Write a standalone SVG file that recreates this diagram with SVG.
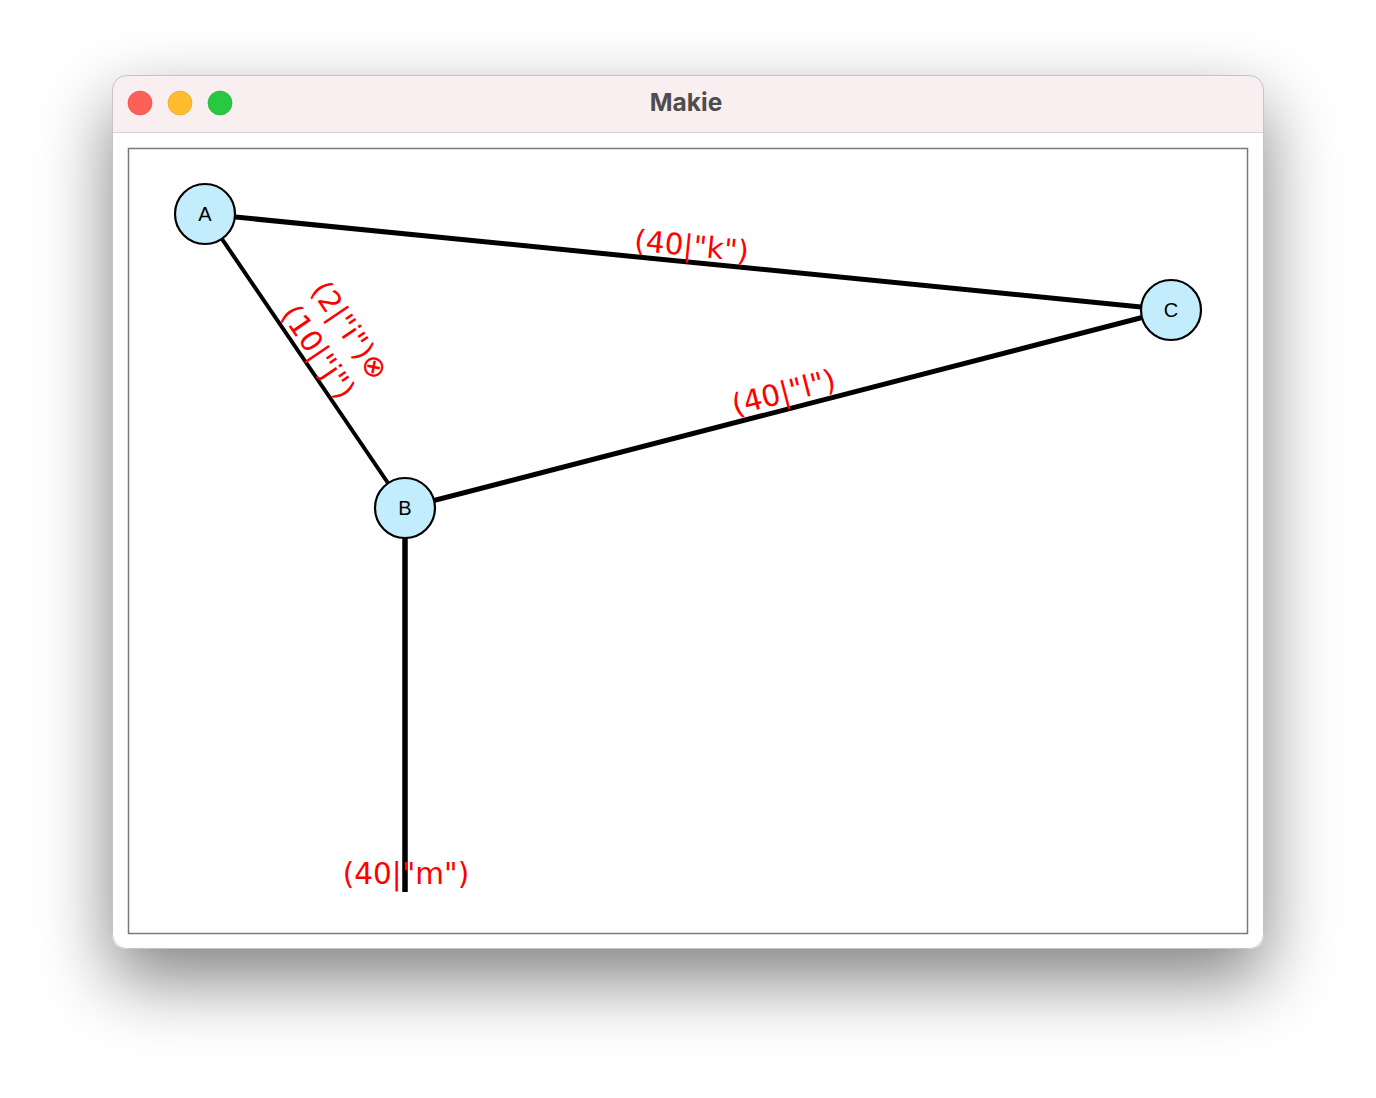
<svg xmlns="http://www.w3.org/2000/svg" width="1376" height="1098" viewBox="0 0 1376 1098">
<defs>
<filter id="shadow" x="-20%" y="-20%" width="140%" height="160%">
<feGaussianBlur in="SourceAlpha" stdDeviation="36"/>
<feOffset dx="0" dy="30" result="b"/>
<feComponentTransfer><feFuncA type="linear" slope="0.5"/></feComponentTransfer>
</filter>
<clipPath id="win"><rect x="112" y="75" width="1152" height="874" rx="14"/></clipPath>
<style>
.edge{stroke:#000;fill:none;stroke-linecap:butt}
.node circle{fill:#c3edfd;stroke:#000;stroke-width:2.2}
.node text{font-family:"Liberation Sans",Arial,sans-serif;font-size:20px;fill:#000;text-anchor:middle}
.lbl{font-family:"DejaVu Sans",sans-serif;font-size:29.5px;fill:#ff0000;text-anchor:middle}
</style>
</defs>
<rect width="1376" height="1098" fill="#ffffff"/>
<rect x="112" y="75" width="1152" height="874" rx="14" fill="#000" filter="url(#shadow)"/>
<g id="window">
<rect x="112" y="75" width="1152" height="874" rx="14" fill="#ffffff"/>
<g clip-path="url(#win)">
<rect x="112" y="75" width="1152" height="57" fill="#f9eef0"/>
<line x1="112" y1="132.5" x2="1264" y2="132.5" stroke="#d9d3d4" stroke-width="1"/>
</g>
<rect x="112.5" y="75.5" width="1151" height="873" rx="14" fill="none" stroke="#c4c4c4" stroke-width="1"/>
<circle cx="140" cy="103" r="12" fill="#fe5f57" stroke="#e0443e" stroke-width="0.6"/>
<circle cx="180" cy="103" r="12" fill="#febc2e" stroke="#dea123" stroke-width="0.6"/>
<circle cx="220" cy="103" r="12" fill="#28c840" stroke="#1aab29" stroke-width="0.6"/>
<text x="686" y="111" font-family="Inter,'Liberation Sans',sans-serif" font-weight="bold" font-size="24.5" fill="#4d4d4d" text-anchor="middle">Makie</text>
<rect x="128.5" y="148.5" width="1119" height="785" fill="#ffffff" stroke="#7a7a7a" stroke-width="1.5"/>
</g>
<g id="connectors">
<line class="edge" x1="205" y1="214" x2="405" y2="508" stroke-width="4"/>
<line class="edge" x1="205" y1="214" x2="1171" y2="310" stroke-width="5"/>
<line class="edge" x1="405" y1="508" x2="1171" y2="310" stroke-width="5"/>
<line class="edge" x1="405" y1="508" x2="405" y2="892" stroke-width="5.5"/>
<g transform="translate(305,361) rotate(55.8)">
<text class="lbl" x="0" y="-44">(2|"i")⊗</text>
<text class="lbl" x="0" y="-6">(10|"j")</text>
</g>
<g transform="translate(690,262) rotate(5.67)">
<text class="lbl" x="0" y="-6">(40|"k")</text>
</g>
<g transform="translate(788,409) rotate(-14.49)">
<text class="lbl" x="0" y="-7">(40|"l")</text>
</g>
<text class="lbl" x="406" y="884">(40|"m")</text>
</g>
<g id="node-A" class="node"><circle cx="205" cy="214" r="30"/><text x="205" y="221">A</text></g>
<g id="node-B" class="node"><circle cx="405" cy="508" r="30"/><text x="405" y="515">B</text></g>
<g id="node-C" class="node"><circle cx="1171" cy="310" r="30"/><text x="1171" y="317">C</text></g>
</svg>
